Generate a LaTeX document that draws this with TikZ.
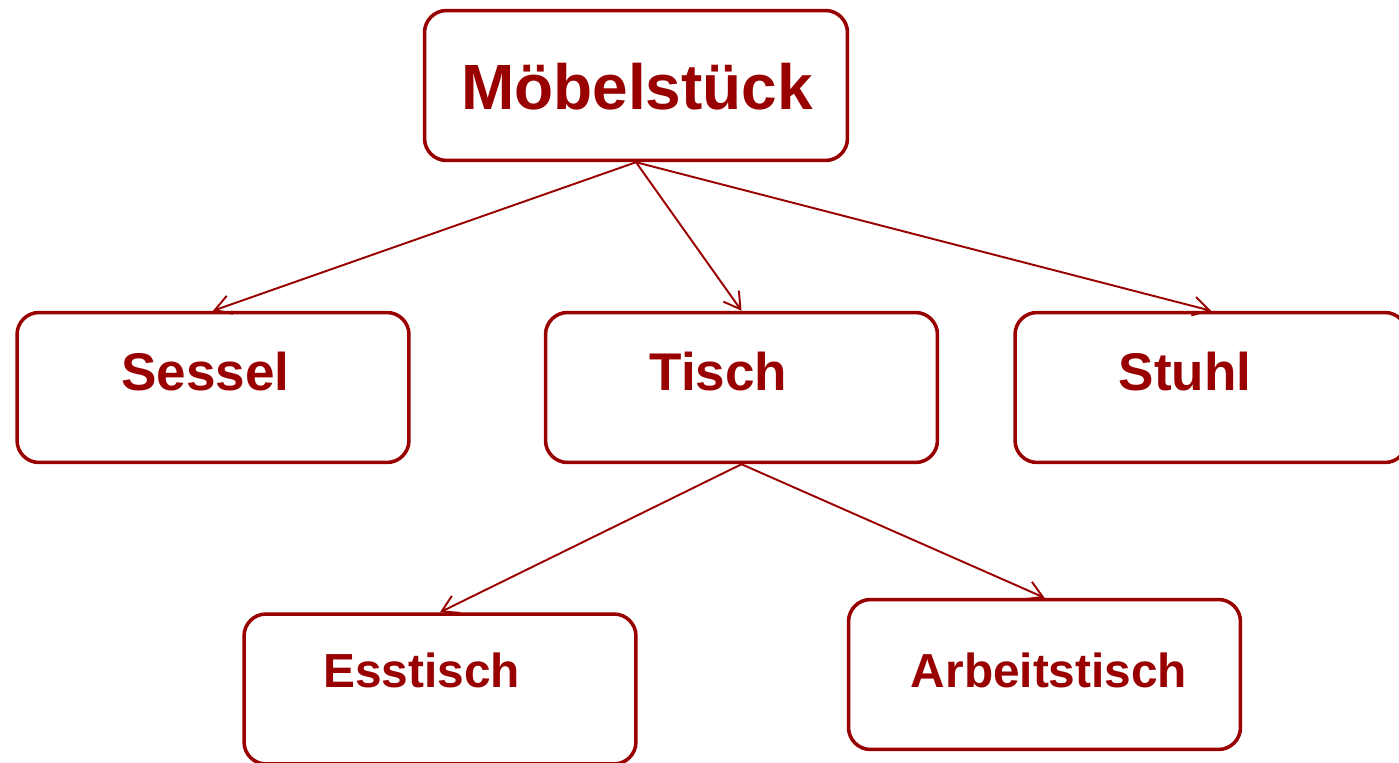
\documentclass[tikz,border=0pt]{standalone}
\usepackage{fontspec}
\setmainfont{Liberation Sans}
\usetikzlibrary{arrows.meta}
\definecolor{moebelrot}{HTML}{990000}
\tikzset{
  kasten/.style={draw=moebelrot,line width=2pt,rounded corners=0.44cm,minimum width=7.84cm,minimum height=3cm,inner sep=0pt},
  titel/.style={moebelrot,anchor=base,inner sep=0pt,font=\bfseries\fontsize{30.2}{32}\selectfont},
  pfeil/.style={moebelrot,line width=1.1pt,-{Straight Barb[length=0.32cm,width=0.38cm,line width=1.1pt]}}
}
\begin{document}
\begin{tikzpicture}[x=0.02cm,y=-0.02cm]
	\useasboundingbox (0,0) rectangle (1399,763);
	\clip (0,0) rectangle (1399,763);
	% Kaesten
	\node[kasten,minimum width=8.46cm] (moebel) at (636,85.5) {};
	\node[kasten] (sessel) at (213,387.5) {};
	\node[kasten] (tisch) at (741.5,387.5) {};
	\node[kasten] (stuhl) at (1211,387.5) {};
	\node[kasten] (esstisch) at (440,689) {};
	\node[kasten] (arbeit) at (1044.5,674.5) {};
	% Beschriftungen
	\node[titel,font=\bfseries\fontsize{36.4}{40}\selectfont] (moebeltxt) at (637,109.5) {Möbelstück};
	\node[titel] (sesseltxt) at (205.5,390) {Sessel};
	\node[titel] (tischtxt) at (718.5,390) {Tisch};
	\node[titel] (stuhltxt) at (1185,390) {Stuhl};
	\node[titel,font=\bfseries\fontsize{27.2}{30}\selectfont] (esstischtxt) at (421.5,687) {Esstisch};
	\node[titel,font=\bfseries\fontsize{27.2}{30}\selectfont] (arbeittxt) at (1049,687) {Arbeitstisch};
	% Pfeile
	\draw[pfeil] (moebel.south) -- (sessel.north);
	\draw[pfeil] (moebel.south) -- (tisch.north);
	\draw[pfeil] (moebel.south) -- (stuhl.north);
	\draw[pfeil] (tisch.south) -- (esstisch.north);
	\draw[pfeil] (tisch.south) -- (arbeit.north);
\end{tikzpicture}
\end{document}
